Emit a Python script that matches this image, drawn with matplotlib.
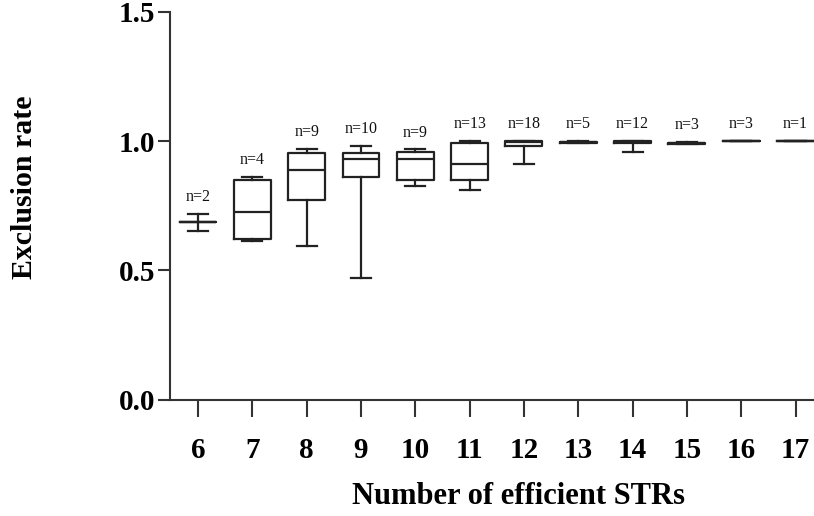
import matplotlib
matplotlib.use("Agg")
import matplotlib.pyplot as plt

# ---- data ----
categories = [6, 7, 8, 9, 10, 11, 12, 13, 14, 15, 16, 17]
n_counts = [2, 4, 9, 10, 9, 13, 18, 5, 12, 3, 3, 1]
whisker_low = [0.651, 0.612, 0.593, 0.469, 0.828, 0.812, 0.912, 0.991, 0.959, 0.990, 1.000, 1.000]
q1_values = [0.687, 0.622, 0.771, 0.861, 0.850, 0.850, 0.982, 0.992, 0.993, 0.990, 1.000, 1.000]
medians = [0.687, 0.724, 0.889, 0.932, 0.930, 0.912, 0.996, 0.996, 0.997, 0.993, 1.000, 1.000]
q3_values = [0.687, 0.848, 0.956, 0.953, 0.959, 0.992, 1.000, 0.998, 0.999, 0.994, 1.000, 1.000]
whisker_high = [0.719, 0.863, 0.971, 0.982, 0.969, 1.000, 1.000, 1.000, 1.000, 0.997, 1.000, 1.000]
y_ticks = [0.0, 0.5, 1.0, 1.5]

plt.rcParams['font.family'] = ['Liberation Serif', 'DejaVu Serif']

fig = plt.figure(figsize=(8.14, 5.16), dpi=100)
W, H = 814, 516
ax = fig.add_axes([170 / W, 116.5 / H, 644 / W, 387.5 / H])

line_color = '#222222'
stats = []
for c, lo, q1, me, q3, hi in zip(categories, whisker_low, q1_values, medians, q3_values, whisker_high):
    stats.append(dict(whislo=lo, q1=q1, med=me, q3=q3, whishi=hi, fliers=[], label=str(c)))

lp = dict(color=line_color, linewidth=1.6)
ax.bxp(stats, positions=categories, widths=0.68, capwidths=0.37, showfliers=False,
       boxprops=lp, whiskerprops=lp, capprops=lp,
       medianprops=dict(color=line_color, linewidth=1.6),
       manage_ticks=False)

for c, n, hi in zip(categories, n_counts, whisker_high):
    ax.annotate(f"n={n}", xy=(c, hi), xytext=(0, 12), textcoords='offset points',
                ha='center', va='center', fontsize=11.5, color='#111111')

ax.set_xlim(5.484, 17.34)
ax.set_ylim(0, 1.5)
ax.set_xticks(categories)
ax.set_xticklabels([str(c) for c in categories])
ax.set_yticks(y_ticks)
ax.set_yticklabels([f"{v:.1f}" for v in y_ticks])

for s in ['top', 'right']:
    ax.spines[s].set_visible(False)
for s in ['left', 'bottom']:
    ax.spines[s].set_linewidth(1.5)
    ax.spines[s].set_color('#333333')

ax.tick_params(axis='x', length=12, width=1.5, color='#333333', pad=15,
               labelsize=21)
ax.tick_params(axis='y', length=8.6, width=1.5, color='#333333', pad=2,
               labelsize=21)
for lab in ax.get_xticklabels() + ax.get_yticklabels():
    lab.set_fontweight('bold')

fig.text(25 / W, 1 - 187 / H, 'Exclusion rate', rotation=90, ha='center', va='center',
         fontsize=21.5, fontweight='bold')
fig.text(518 / W, 1 - 497 / H, 'Number of efficient STRs', ha='center', va='center',
         fontsize=22, fontweight='bold')

fig.savefig('out.png', dpi=100)
